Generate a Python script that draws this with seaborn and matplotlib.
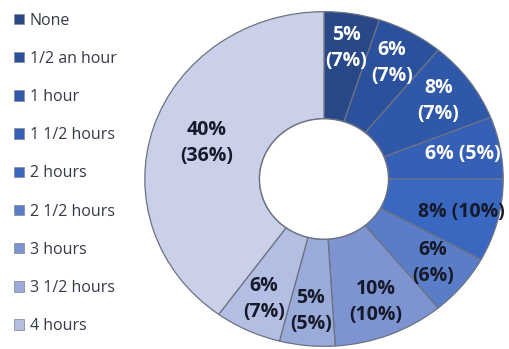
import matplotlib
matplotlib.use("Agg")
import matplotlib.pyplot as plt
from matplotlib.patches import Patch
import numpy as np
import seaborn as sns

sns.set_theme(style="white")
plt.rcParams["font.family"] = ["Open Sans", "DejaVu Sans"]

# Share of respondents per time band (first value) and comparison share (second value)
categories = ["None", "1/2 an hour", "1 hour", "1 1/2 hours", "2 hours",
              "2 1/2 hours", "3 hours", "3 1/2 hours", "4 hours", "4+ hours"]
shares = [5, 6, 8, 6, 8, 6, 10, 5, 6, 40]
comparison = [7, 7, 7, 5, 10, 6, 10, 5, 7, 36]
legend_labels = categories[:9]

colors = ["#284888", "#2c519c", "#3058a9", "#3560b6", "#3a68c1",
          "#5a7dc8", "#7d94d0", "#9aabd9", "#b3bfe2", "#c9d0e8"]
text_colors = ["white"] * 4 + ["#15192a"] * 6
separators = ["\n", "\n", "\n", " ", " ", "\n", "\n", "\n", "\n", "\n"]

fig = plt.figure(figsize=(5.10, 3.49), dpi=100)
ax = fig.add_axes([143 / 510, 1 / 349, 362 / 510, 338 / 349])

wedges, _ = ax.pie(
    shares, colors=colors, startangle=90, counterclock=False,
    radius=1.0,
    wedgeprops=dict(width=0.64, edgecolor="#6c7284", linewidth=0.9),
)
# outline of the centre hole
hole = plt.Circle((0, 0), 0.36, facecolor="white", edgecolor="#6c7284", linewidth=1.0)
ax.add_patch(hole)
ax.set_aspect("auto")
ax.set_xlim(-1.01, 1.01)
ax.set_ylim(-1.01, 1.01)
ax.axis("off")

for w, s, c, sep, tc in zip(wedges, shares, comparison, separators, text_colors):
    mid = np.deg2rad((w.theta1 + w.theta2) / 2)
    r = 0.69 if s >= 30 else 0.79
    ax.text(r * np.cos(mid), r * np.sin(mid), f"{s}%{sep}({c}%)",
            ha="center", va="center", fontsize=14, fontweight="bold",
            color=tc, linespacing=1.4)

handles = [Patch(facecolor=col, edgecolor="#8a8fa0", linewidth=0.6) for col in colors[:9]]
fig.legend(handles, legend_labels, loc="upper left", bbox_to_anchor=(0.021, 0.973),
           frameon=False, fontsize=11.5, labelcolor="#363a48",
           handlelength=0.62, handleheight=0.62, handletextpad=0.38,
           labelspacing=1.39, borderaxespad=0, borderpad=0.2)

fig.savefig("out.png", dpi=100)
